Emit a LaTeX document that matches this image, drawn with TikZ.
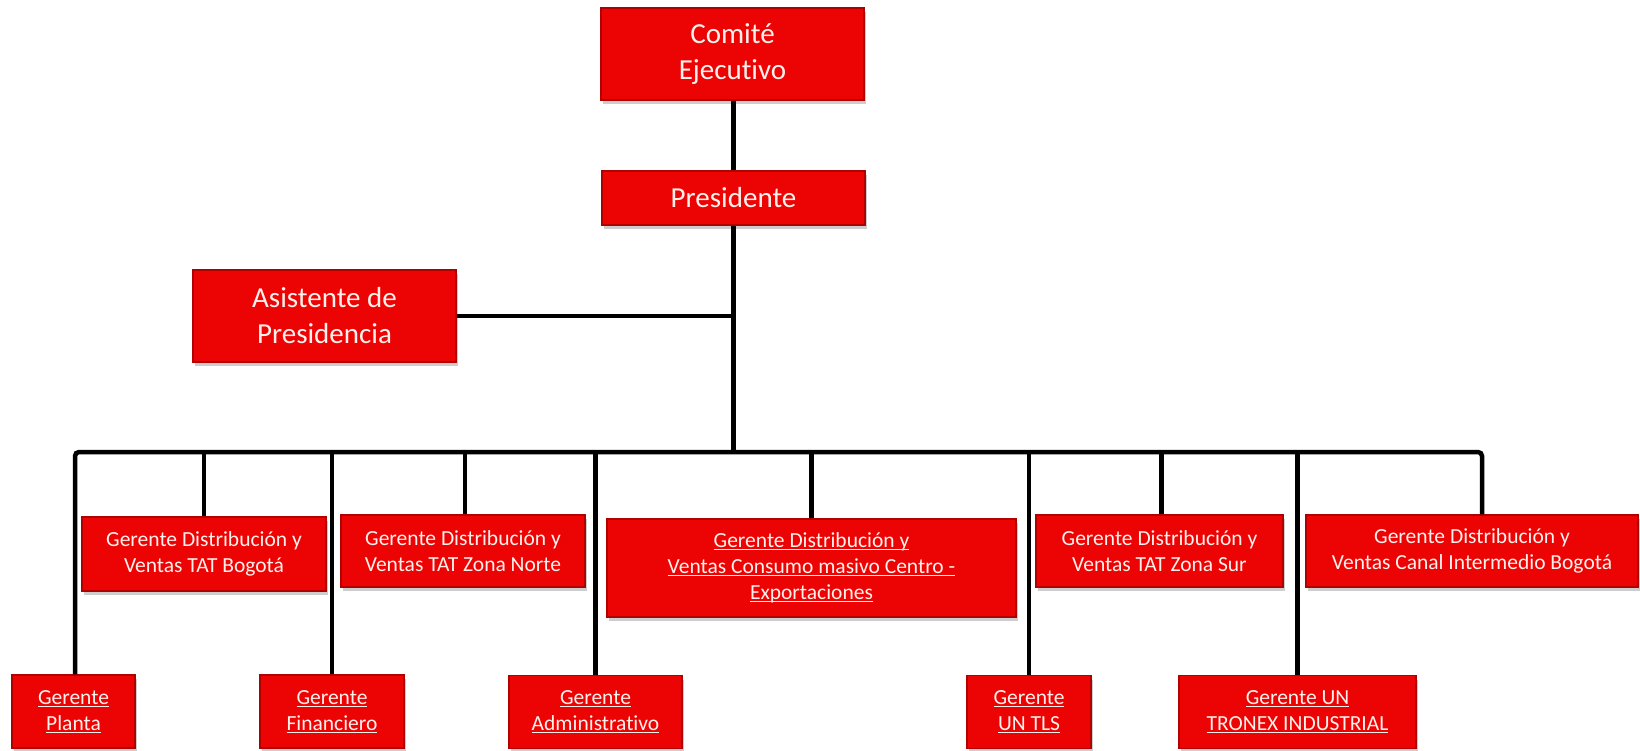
\documentclass[tikz,border=0pt]{standalone}
\usepackage{fontspec}
\setmainfont{Carlito}[Ligatures=NoCommon]
\usetikzlibrary{shadows}
\definecolor{boxred}{RGB}{236,4,4}
\definecolor{boxedge}{RGB}{176,0,0}
\definecolor{txtw}{RGB}{255,240,235}
\newcommand{\ulx}[1]{\setbox0=\hbox{#1}\rlap{\rule[-2.6pt]{\wd0}{1.1pt}}\box0}
\tikzset{
  orgbox/.style={rectangle, fill=boxred, draw=boxedge, line width=1.4pt, text=txtw,
    align=center, inner sep=0pt,
    drop shadow={shadow xshift=2pt, shadow yshift=-4pt, opacity=0.28, fill=black!70}},
  bigtxt/.style={font=\fontsize{29}{36}\selectfont},
  smalltxt/.style={font=\fontsize{21.5}{26}\selectfont},
  conn/.style={line width=4.5pt, draw=black}
}
\begin{document}
\begin{tikzpicture}[x=1pt,y=-1pt]
\useasboundingbox (0,0) rectangle (1640,750);
% top level
\node[orgbox,bigtxt,minimum width=263pt,minimum height=92pt] (comite) at (732.5,54) {Comité\\Ejecutivo};
\node[orgbox,bigtxt,minimum width=263pt,minimum height=54pt] (pres) at (733.5,198) {Presidente};
\node[orgbox,bigtxt,minimum width=263pt,minimum height=92pt] (asist) at (324.5,316) {Asistente de\\Presidencia};
% first row
\node[orgbox,smalltxt,minimum width=244pt,minimum height=74pt] (tatbog) at (204,554) {Gerente Distribución y\\Ventas TAT Bogotá};
\node[orgbox,smalltxt,minimum width=244pt,minimum height=72pt] (norte) at (463,551) {Gerente Distribución y\\Ventas TAT Zona Norte};
\node[orgbox,smalltxt,minimum width=409pt,minimum height=98pt] (consumo) at (811.5,568) {\ulx{Gerente Distribución y}\\\ulx{Ventas Consumo masivo Centro -}\\\ulx{Exportaciones}};
\node[orgbox,smalltxt,minimum width=247pt,minimum height=72pt] (sur) at (1159.5,551) {Gerente Distribución y\\Ventas TAT Zona Sur};
\node[orgbox,smalltxt,minimum width=332pt,minimum height=72pt] (canal) at (1472,551) {Gerente Distribución y\\Ventas Canal Intermedio Bogotá};
% second row
\node[orgbox,smalltxt,minimum width=123pt,minimum height=73pt] (planta) at (73.5,711.5) {\ulx{Gerente}\\\ulx{Planta}};
\node[orgbox,smalltxt,minimum width=144pt,minimum height=73pt] (financ) at (332,711.5) {\ulx{Gerente}\\\ulx{Financiero}};
\node[orgbox,smalltxt,minimum width=173pt,minimum height=73pt] (admin) at (595.5,712) {\ulx{Gerente}\\\ulx{Administrativo}};
\node[orgbox,smalltxt,minimum width=124pt,minimum height=73pt] (tls) at (1029,712) {\ulx{Gerente}\\\ulx{UN TLS}};
\node[orgbox,smalltxt,minimum width=237pt,minimum height=73pt] (tronex) at (1297.5,712) {\ulx{Gerente UN}\\\ulx{TRONEX INDUSTRIAL}};
% bus coordinates
\coordinate (bus) at (734,452);
\coordinate (busR) at (1482,452);
% connectors
\draw[conn] (pres.north) -- (pres.north |- comite.south);
\draw[conn] (pres.south) -- (pres.south |- bus);
\draw[conn] (asist.east) -- (asist.east -| pres.south);
\draw[conn,rounded corners=4pt] ([xshift=1.5pt]planta.north) |- (busR) -- (busR |- canal.north);
\draw[conn] (tatbog.north) -- (tatbog.north |- bus);
\draw[conn] (financ.north) -- (financ.north |- bus);
\draw[conn] ([xshift=2pt]norte.north) -- ([xshift=2pt]norte.north |- bus);
\draw[conn] (admin.north) -- (admin.north |- bus);
\draw[conn] (consumo.north) -- (consumo.north |- bus);
\draw[conn] (tls.north) -- (tls.north |- bus);
\draw[conn] ([xshift=2pt]sur.north) -- ([xshift=2pt]sur.north |- bus);
\draw[conn] (tronex.north) -- (tronex.north |- bus);
\end{tikzpicture}
\end{document}
